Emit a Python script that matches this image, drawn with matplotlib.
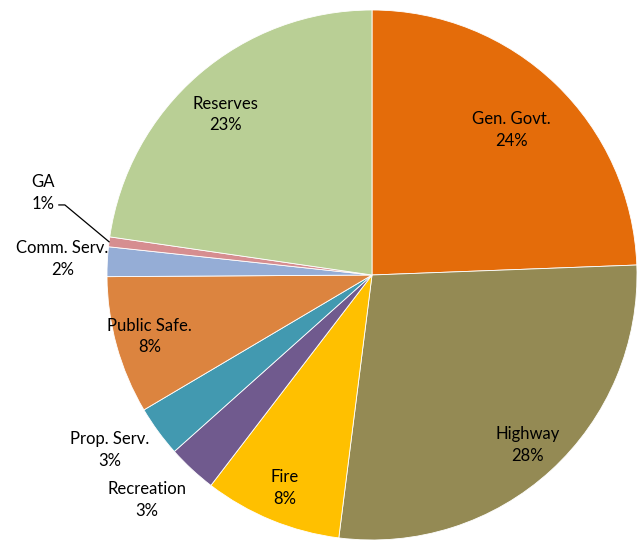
import numpy as np
import matplotlib.pyplot as plt

plt.rcParams['font.family'] = ['Lato', 'DejaVu Sans']

# data (percent of budget), clockwise from 12 o'clock
labels = ['Gen. Govt.', 'Highway', 'Fire', 'Recreation', 'Prop. Serv.',
          'Public Safe.', 'Comm. Serv.', 'GA', 'Reserves']
values = [24.4, 27.6, 8.4, 3.0, 3.1, 8.4, 1.8, 0.6, 22.7]
pct_labels = ['24%', '28%', '8%', '3%', '3%', '8%', '2%', '1%', '23%']
colors = ['#E46C0A', '#948A54', '#FFC000', '#705A8E', '#4299B0',
          '#DC843F', '#95ADD6', '#D68E90', '#B9CF95']

fig = plt.figure(figsize=(6.37, 5.40), dpi=100)
ax = fig.add_axes([0, 0, 1, 1])

cx, cy, r = 372, 265, 265
wedges, _ = ax.pie(values, colors=colors, startangle=90, counterclock=False,
                   center=(cx, cy), radius=r, frame=True,
                   wedgeprops=dict(edgecolor='white', linewidth=0.6))
ax.set_xlim(0, 637)
ax.set_ylim(0, 540)
ax.set_aspect('equal')
ax.axis('off')

# label distance (fraction of radius), inside for large slices
dist = [0.76, 0.87, 0.87, 1.2, 1.19, 0.87, 1.17, 1.28, 0.82]
shift = [0, 0, 0, -2.2, -2.4, 0, 0, 0, 1.5]  # small angular nudges (deg)
for i, w in enumerate(wedges):
    mid = np.deg2rad((w.theta1 + w.theta2) / 2 + shift[i])
    txt = labels[i] + '\n' + pct_labels[i]
    if labels[i] == 'GA':
        ang = np.deg2rad(166)
        tx, ty = cx + dist[i] * r * np.cos(ang), cy + dist[i] * r * np.sin(ang)
        ax.text(tx, ty, txt, ha='center', va='center', fontsize=12,
                linespacing=1.45)
        px, py = cx + r * np.cos(mid), cy + r * np.sin(mid)
        ax.plot([tx + 16, tx + 22, px], [ty - 12, ty - 12, py],
                color='black', lw=0.9)
    else:
        tx, ty = cx + dist[i] * r * np.cos(mid), cy + dist[i] * r * np.sin(mid)
        ax.text(tx, ty, txt, ha='center', va='center', fontsize=12,
                linespacing=1.45)

plt.savefig('out.png', dpi=100)
